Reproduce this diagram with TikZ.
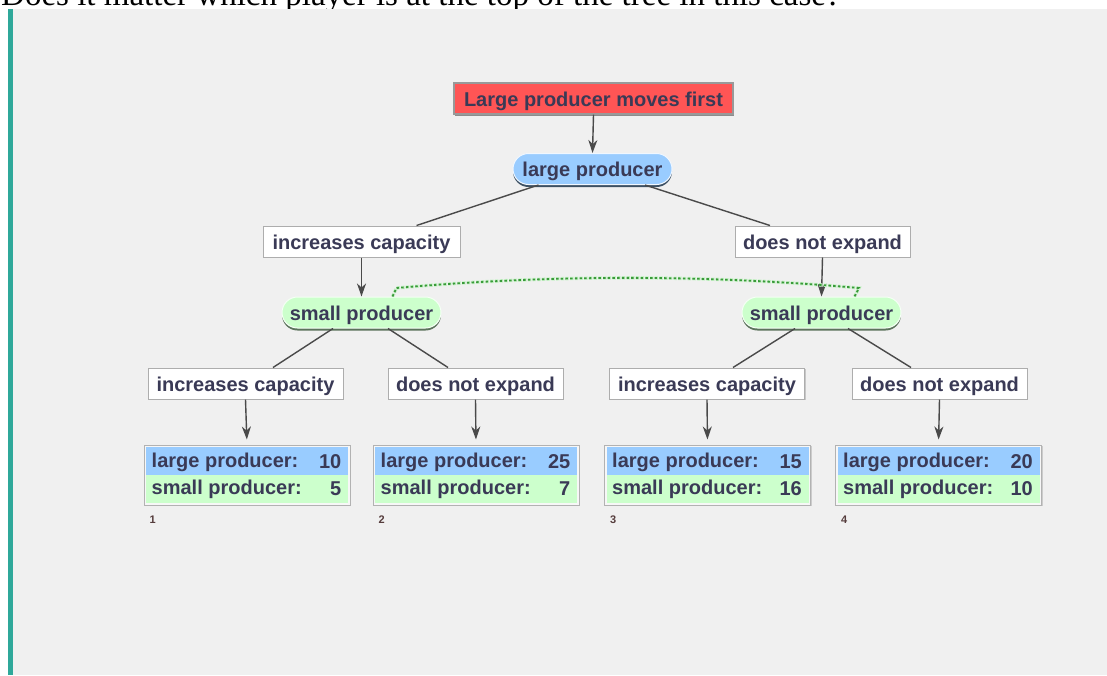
\documentclass[tikz,border=0pt]{standalone}
\usepackage{fontspec}
\setmainfont{Liberation Sans}
\newfontfamily\qserif{Liberation Serif}
\usetikzlibrary{arrows.meta,shadows,calc}
\definecolor{panel}{HTML}{F0F0F0}
\definecolor{tealbar}{HTML}{2FA89A}
\definecolor{ink}{HTML}{3A3A56}
\definecolor{redf}{HTML}{FF5555}
\definecolor{bluef}{HTML}{99CCFF}
\definecolor{greenf}{HTML}{CCFFCC}
\definecolor{edgec}{HTML}{4A4A4A}
\definecolor{dotc}{HTML}{3A9A3A}
\definecolor{dothalo}{HTML}{C8F2C8}
\definecolor{numc}{HTML}{553C3C}
\tikzset{
  txt/.style={font=\fontsize{20}{22}\selectfont\bfseries, text=ink, text height=19pt, text depth=4pt, inner sep=0pt},
  redbox/.style={txt, rectangle, fill=redf, draw=black!40, line width=1.2pt, minimum width=279pt, minimum height=31pt,
    drop shadow={shadow xshift=1pt, shadow yshift=-1.5pt, fill=black!45, opacity=1}},
  bluenode/.style={txt, rectangle, rounded corners=15.5pt, fill=bluef, draw=white!85!bluef, line width=1pt, minimum width=159pt, minimum height=31pt,
    drop shadow={shadow xshift=0pt, shadow yshift=-2.5pt, fill=black!35!bluef!60!black, opacity=1}},
  greennode/.style={txt, rectangle, rounded corners=15.5pt, fill=greenf, draw=white!80!greenf, line width=1pt, minimum width=159pt, minimum height=31pt,
    drop shadow={shadow xshift=0pt, shadow yshift=-2.5pt, fill=greenf!45!black, opacity=1}},
  labelbox/.style={txt, rectangle, fill=white, draw=black!32, line width=1pt, minimum height=31pt,
    drop shadow={shadow xshift=1pt, shadow yshift=-1pt, fill=black!22, opacity=1}},
  paybox/.style={rectangle, fill=white!97!black, draw=black!30, line width=1pt, minimum width=206pt, minimum height=60pt, inner sep=0pt,
    drop shadow={shadow xshift=1pt, shadow yshift=-1pt, fill=black!20, opacity=1}},
  paytxt/.style={font=\fontsize{20}{22}\selectfont\bfseries, text=ink, inner sep=0pt},
  numtxt/.style={font=\fontsize{11}{12}\selectfont\bfseries, text=numc, inner sep=0pt},
  edge/.style={draw=edgec, line width=1.4pt},
  arr/.style={edge, -{Stealth[length=13pt, width=9pt, inset=4pt]}},
  infohalo/.style={draw=dothalo, line width=3.4pt},
  infoset/.style={draw=dotc, line width=1.8pt, dash pattern=on 2.5pt off 2.2pt}
}
\begin{document}
\begin{tikzpicture}[x=1pt,y=-1pt]
\useasboundingbox (0,0) rectangle (1107,675);
\clip (0,0) rectangle (1107,675);
\fill[white] (0,0) rectangle (1107,675);
\node[anchor=base west, inner sep=0pt, font=\qserif\fontsize{33}{36}\selectfont] (question) at (1,5) {Does it matter which player is at the top of the tree in this case?};
\fill[panel] (12,9) rectangle (1107,675);
\fill[tealbar] (8,9) rectangle (12.5,675);

% nodes
\node[redbox] (top) at (593.5,98.5) {Large producer moves first};
\node[bluenode] (lp) at (592.5,169) {large producer};
\node[labelbox, minimum width=197pt] (ic1) at (361.5,241.5) {increases capacity};
\node[labelbox, minimum width=175pt] (dne1) at (822.5,241.5) {does not expand};
\node[greennode] (spL) at (361.5,312.5) {small producer};
\node[greennode] (spR) at (821.5,312.5) {small producer};
\node[labelbox, minimum width=195pt] (ic2a) at (245.5,383.5) {increases capacity};
\node[labelbox, minimum width=175pt] (dne2a) at (475.5,383.5) {does not expand};
\node[labelbox, minimum width=195pt] (ic2b) at (707,383.5) {increases capacity};
\node[labelbox, minimum width=175pt] (dne2b) at (939.5,383.5) {does not expand};

% payoff boxes
\foreach \n/\cx/\a/\b in {1/247/10/5, 2/476/25/7, 3/707.5/15/16, 4/938.5/20/10}{
  \node[paybox] (pay\n) at (\cx,475) {};
  \fill[bluef] ([shift={(2.5,2.5)}]pay\n.north west) rectangle ([shift={(-2.5,30)}]pay\n.north east);
  \fill[greenf] ([shift={(2.5,30)}]pay\n.north west) rectangle ([shift={(-2.5,-2.5)}]pay\n.south east);
  \node[paytxt, anchor=base west] (pl\n) at ([shift={(8,23)}]pay\n.north west) {large producer:};
  \node[paytxt, anchor=base east] (pla\n) at ([shift={(-9,23.5)}]pay\n.north east) {\a};
  \node[paytxt, anchor=base west] (ps\n) at ([shift={(8,50)}]pay\n.north west) {small producer:};
  \node[paytxt, anchor=base east] (psb\n) at ([shift={(-9,50.5)}]pay\n.north east) {\b};
  \node[numtxt, anchor=base west] (num\n) at ([shift={(6,17.5)}]pay\n.south west) {\n};
}

% connectors
\draw[arr] (top.south) -- (lp.north);
\draw[edge] ([xshift=-54pt]lp.south) -- ([xshift=55pt]ic1.north);
\draw[edge] ([xshift=52.5pt]lp.south) -- ([xshift=-52.5pt]dne1.north);
\draw[arr] (ic1.south) -- (spL.north);
\draw[arr] (dne1.south) -- (spR.north);
\draw[edge] ([xshift=-28.5pt]spL.south) -- ([xshift=27.5pt]ic2a.north);
\draw[edge] ([xshift=26.5pt]spL.south) -- ([xshift=-27.5pt]dne2a.north);
\draw[edge] ([xshift=-26.5pt]spR.south) -- ([xshift=26pt]ic2b.north);
\draw[edge] ([xshift=26.5pt]spR.south) -- ([xshift=-28.5pt]dne2b.north);
\draw[arr, shorten >=5pt] (ic2a.south) -- (pay1.north);
\draw[arr, shorten >=5pt] (dne2a.south) -- (pay2.north);
\draw[arr, shorten >=5pt] (ic2b.south) -- (pay3.north);
\draw[arr, shorten >=5pt] (dne2b.south) -- (pay4.north);

% information set
\coordinate (isL) at ([xshift=31pt]spL.north);
\coordinate (isR) at ([xshift=33pt]spR.north);
\draw[infohalo, dash pattern=on 3.5pt off 1.2pt] (isL) -- ++(4,-8.5) .. controls (550,274.5) and (705,274.5) .. (859,288) -- (isR);
\draw[infoset] (isL) -- ++(4,-8.5) .. controls (550,274.5) and (705,274.5) .. (859,288) -- (isR);
\end{tikzpicture}
\end{document}
